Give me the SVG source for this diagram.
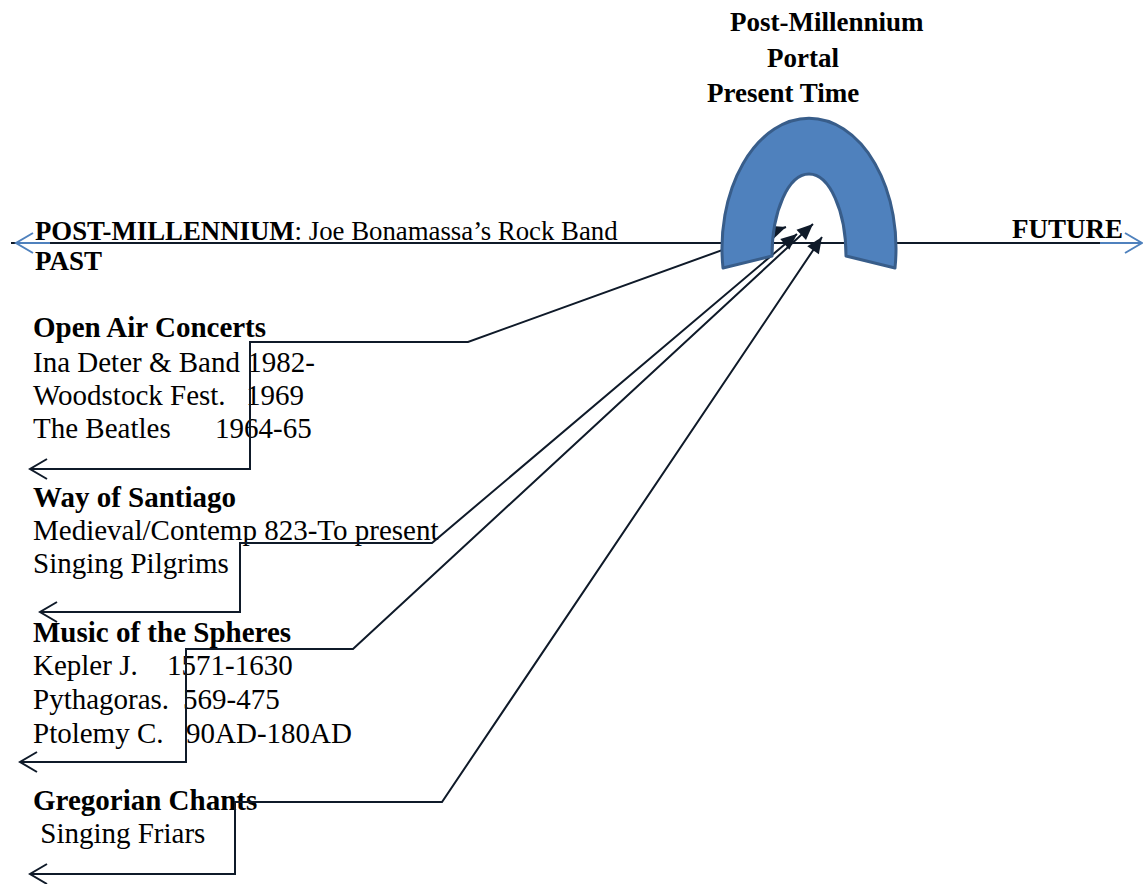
<svg xmlns="http://www.w3.org/2000/svg" width="1143" height="884" viewBox="0 0 1143 884">
  <style>
    text { font-family: "Liberation Serif", "Times New Roman", serif; fill: #000; white-space: pre; }
    .b { font-weight: bold; }
    .head { font-size: 27px; font-weight: bold; }
    .top { font-size: 26.8px; }
    .body { font-size: 29px; }
    .conn { fill: none; stroke: #0f1a29; stroke-width: 2; stroke-linejoin: miter; }
    .axis { fill: none; stroke: #0f1a29; stroke-width: 2; }
    .axis-end { fill: none; stroke: #4f81bd; stroke-width: 2; }
  </style>
  <defs>
    <!-- filled head where each connector meets the portal -->
    <marker id="solid" viewBox="-18 -9 20 18" refX="0" refY="0" markerWidth="20" markerHeight="18" markerUnits="userSpaceOnUse" orient="auto" overflow="visible">
      <path d="M -16 -7 L 0 0 L -16 7 Z" fill="#0f1a29"/>
    </marker>
    <!-- open head at the far left of each elbow connector -->
    <marker id="open" viewBox="-20 -12 22 24" refX="0" refY="0" markerWidth="22" markerHeight="24" markerUnits="userSpaceOnUse" orient="auto-start-reverse" overflow="visible">
      <path d="M -17 -10 L 0 0 L -17 10" fill="none" stroke="#0f1a29" stroke-width="2"/>
    </marker>
    <!-- blue open heads on the time axis -->
    <marker id="axisHead" viewBox="-20 -12 22 24" refX="0" refY="0" markerWidth="22" markerHeight="24" markerUnits="userSpaceOnUse" orient="auto-start-reverse" overflow="visible">
      <path d="M -17 -10 L 0 0 L -17 10" fill="none" stroke="#4f81bd" stroke-width="2"/>
    </marker>
  </defs>

  <!-- time axis: past on the left, future on the right -->
  <g id="timeline">
    <line class="axis" x1="11" y1="243" x2="1138" y2="243"/>
    <line class="axis-end" x1="50" y1="243" x2="16" y2="243" marker-end="url(#axisHead)"/>
    <line class="axis-end" x1="1100" y1="243" x2="1142" y2="243" marker-end="url(#axisHead)"/>
  </g>

  <g id="title">
    <text class="head" x="730" y="31">Post-Millennium</text>
    <text class="head" x="767" y="67">Portal</text>
    <text class="head" x="707" y="102">Present Time</text>
  </g>

  <g id="post-millennium">
    <text class="top" x="35" y="240"><tspan class="b">POST-MILLENNIUM</tspan>: Joe Bonamassa’s Rock Band</text>
  </g>
  <g id="past-label">
    <text class="head" x="35" y="270">PAST</text>
  </g>
  <g id="future-label">
    <text class="head" x="1012" y="238">FUTURE</text>
  </g>

  <g id="open-air">
    <text class="body b" x="33" y="337">Open Air Concerts</text>
    <text class="body" x="33" y="372">Ina Deter &amp; Band 1982-</text>
    <text class="body" x="33" y="405">Woodstock Fest.<tspan x="246">1969</tspan></text>
    <text class="body" x="33" y="438">The Beatles<tspan x="215">1964-65</tspan></text>
  </g>

  <g id="santiago">
    <text class="body b" x="33" y="507">Way of Santiago</text>
    <text class="body" x="33" y="540">Medieval/Contemp 823-To present</text>
    <text class="body" x="33" y="573">Singing Pilgrims</text>
  </g>

  <g id="spheres">
    <text class="body b" x="33" y="642">Music of the Spheres</text>
    <text class="body" x="33" y="675">Kepler J.<tspan x="167">1571-1630</tspan></text>
    <text class="body" x="33" y="709">Pythagoras.<tspan x="183">569-475</tspan></text>
    <text class="body" x="33" y="743">Ptolemy C.<tspan x="186">90AD-180AD</tspan></text>
  </g>

  <g id="gregorian">
    <text class="body b" x="33" y="810">Gregorian Chants</text>
    <text class="body" x="33" y="843"> Singing Friars</text>
  </g>

  <!-- elbow connectors from each era into the portal -->
  <g id="connectors">
    <path class="conn" d="M 30 469 H 250 V 342 H 468 L 786 227" marker-start="url(#open)" marker-end="url(#solid)"/>
    <path class="conn" d="M 40 612 H 240 V 543 H 432 L 797 234" marker-start="url(#open)" marker-end="url(#solid)"/>
    <path class="conn" d="M 20 762 H 186 V 649 H 353 L 813 224" marker-start="url(#open)" marker-end="url(#solid)"/>
    <path class="conn" d="M 30 874 H 235 V 802 H 442 L 822 237" marker-start="url(#open)" marker-end="url(#solid)"/>
  </g>

  <!-- the portal: a thick arch standing on the axis -->
  <g id="portal">
    <path d="M 723 268 A 87 130 0 1 1 895 268 L 846 256 A 37 82 0 1 0 772 256 Z" fill="#4f81bd" stroke="#385d8a" stroke-width="3" stroke-linejoin="round"/>
  </g>
</svg>
